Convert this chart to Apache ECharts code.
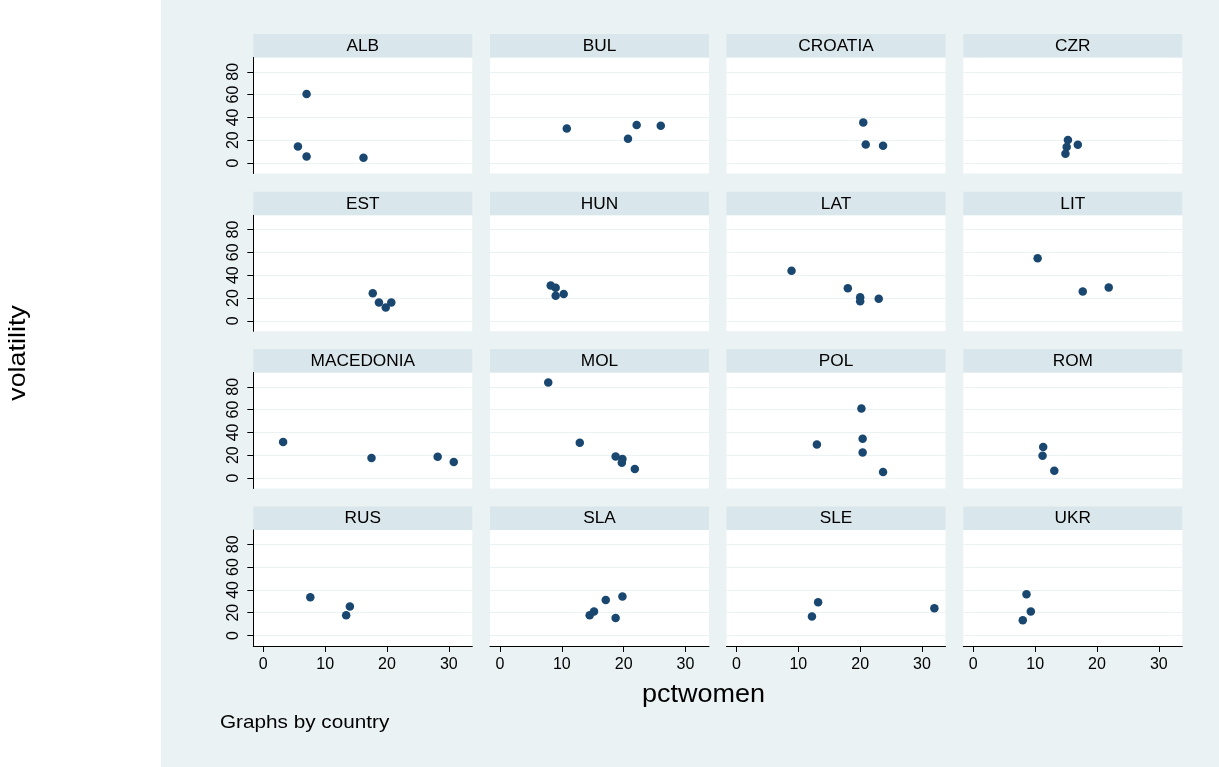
<!DOCTYPE html>
<html><head><meta charset="utf-8">
<script src="https://cdn.jsdelivr.net/npm/echarts@6/dist/echarts.min.js"></script>
<style>
html,body{margin:0;padding:0;background:#fff}
#c{width:1219px;height:767px;background:linear-gradient(to right,#ffffff 0px,#ffffff 161px,#eaf2f3 161px)}
</style>
</head><body><div id="c"></div>
<script>
// pctwomen (x), volatility (y) pairs by country
const countries = ['ALB','BUL','CROATIA','CZR','EST','HUN','LAT','LIT','MACEDONIA','MOL','POL','ROM','RUS','SLA','SLE','UKR'];
const ALB = [[7.0,60.4],[5.6,14.5],[7.0,5.8],[16.2,4.6]];
const BUL = [[10.8,30.3],[20.7,21.3],[22.1,33.3],[26.0,32.6]];
const CROATIA = [[20.5,35.5],[20.9,16.3],[23.7,15.1]];
const CZR = [[15.3,20.1],[15.1,14.0],[14.9,8.1],[16.9,16.0]];
const EST = [[17.7,24.2],[18.7,16.0],[19.8,11.6],[20.7,16.0]];
const HUN = [[8.2,30.9],[9.0,28.9],[9.0,21.9],[10.3,23.6]];
const LAT = [[8.9,43.8],[18.0,28.5],[20.0,20.7],[20.0,17.2],[23.0,19.3]];
const LIT = [[10.4,54.8],[17.7,25.6],[21.9,29.1]];
const MACEDONIA = [[3.2,31.5],[17.5,17.5],[28.2,18.6],[30.8,14.0]];
const MOL = [[7.8,83.7],[12.9,30.9],[18.7,18.9],[19.8,16.6],[19.7,13.4],[21.8,7.9]];
const POL = [[20.2,60.9],[20.4,34.4],[13.0,29.4],[20.4,22.4],[23.7,5.2]];
const ROM = [[11.3,27.1],[11.2,19.5],[13.1,6.4]];
const RUS = [[7.6,33.5],[14.0,25.4],[13.4,17.8]];
const SLA = [[14.5,17.8],[15.2,21.0],[17.1,31.2],[19.8,34.1],[18.7,15.4]];
const SLE = [[13.2,29.1],[12.2,16.6],[32.0,23.9]];
const UKR = [[8.6,36.1],[9.3,21.0],[8.0,13.4]];
const seriesData = [ALB,BUL,CROATIA,CZR,EST,HUN,LAT,LIT,MACEDONIA,MOL,POL,ROM,RUS,SLA,SLE,UKR];
const xTicks = [0,10,20,30];
const yTicks = [0,20,40,60,80];

const FONT = '"Liberation Sans", Arial, sans-serif';
const SX = 1.12; // horizontal stretch of the reference's text
const colLeft = [253.3, 490, 726.5, 963.3];
const rowTop = [34, 191.8, 349, 506.5];
const stripH = 23.5, plotH = 116, plotW = 219;

const grid = [], xAxis = [], yAxis = [], series = [], graphic = [];
countries.forEach((name, i) => {
  const r = Math.floor(i / 4), c = i % 4;
  grid.push({left: colLeft[c], top: rowTop[r] + stripH, width: plotW, height: plotH,
    show: true, backgroundColor: '#ffffff', borderWidth: 0, containLabel: false});
  xAxis.push({type: 'value', gridIndex: i, min: -1.62, max: 33.8, interval: 10,
    axisLine: {show: r === 3, onZero: false, lineStyle: {color: '#000', width: 1}},
    axisTick: {show: r === 3, length: 6, customValues: xTicks, lineStyle: {color: '#000'}},
    axisLabel: {show: r === 3, customValues: xTicks, fontSize: 16, color: '#000', margin: 11, fontFamily: FONT},
    splitLine: {show: false}});
  yAxis.push({type: 'value', gridIndex: i, min: -9.2, max: 92.5, interval: 20,
    axisLine: {show: c === 0, onZero: false, lineStyle: {color: '#000', width: 1}},
    axisTick: {show: c === 0, length: 6, customValues: yTicks, lineStyle: {color: '#000'}},
    axisLabel: {show: c === 0, customValues: yTicks, rotate: 90, fontSize: 16, color: '#000', margin: 12, fontFamily: FONT},
    splitLine: {show: true, lineStyle: {color: '#eaf2f3', width: 1}}});
  series.push({type: 'scatter', xAxisIndex: i, yAxisIndex: i, data: seriesData[i],
    symbol: 'circle', symbolSize: 8.5, itemStyle: {color: '#1a476f', opacity: 1}, emphasis: {disabled: true}});
  graphic.push({type: 'rect', left: colLeft[c], top: rowTop[r], silent: true,
    shape: {width: plotW, height: stripH}, style: {fill: '#d9e6eb'}});
  graphic.push({type: 'text', x: colLeft[c] + plotW / 2, y: rowTop[r] + stripH / 2 + 0.5, scaleX: 1.06, silent: true,
    style: {text: name, fontSize: 16.3, fontFamily: FONT, fill: '#000', textAlign: 'center', textVerticalAlign: 'middle'}});
});
graphic.push({type: 'text', x: 18, y: 353, rotation: Math.PI / 2, scaleX: SX, silent: true,
  style: {text: 'volatility', fontSize: 24, fontFamily: FONT, fill: '#000', textAlign: 'center', textVerticalAlign: 'middle'}});
graphic.push({type: 'text', x: 703.5, y: 695, scaleX: 1.08, silent: true,
  style: {text: 'pctwomen', fontSize: 25, fontFamily: FONT, fill: '#000', textAlign: 'center', textVerticalAlign: 'middle'}});
graphic.push({type: 'text', x: 220, y: 723, scaleX: SX, silent: true,
  style: {text: 'Graphs by country', fontSize: 18.5, fontFamily: FONT, fill: '#000', textAlign: 'left', textVerticalAlign: 'middle'}});

const chart = echarts.init(document.getElementById('c'), null, {renderer: 'canvas'});
chart.setOption({backgroundColor: 'transparent', animation: false, grid, xAxis, yAxis, series, graphic});
</script></body></html>
